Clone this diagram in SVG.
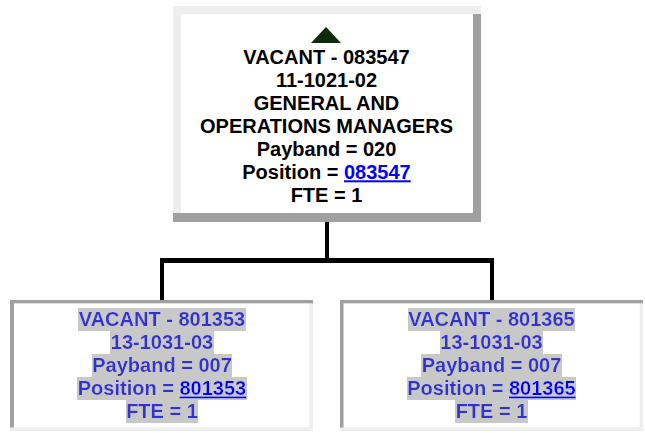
<svg xmlns="http://www.w3.org/2000/svg" width="645" height="433" viewBox="0 0 645 433">
  <defs>
    <style>
      .t { font-family: "Liberation Sans", Arial, sans-serif; font-size: 20px; font-weight: bold; text-anchor: middle; }
      .top { fill: #000000; }
      .child { fill: #3333cc; }
      .link { fill: #0000ff; text-decoration: underline; }
      .dark { fill: #a0a0a0; }
      .light { fill: #eeeeee; }
      .conn { stroke: #000000; fill: none; }
    </style>
    <filter id="hl" x="0" y="0" width="1" height="1">
      <feFlood flood-color="#c8c8c8" result="bg"/>
      <feMerge>
        <feMergeNode in="bg"/>
        <feMergeNode in="SourceGraphic"/>
      </feMerge>
    </filter>
  </defs>
  <rect x="0" y="0" width="645" height="433" fill="#ffffff"/>

  <g id="connectors">
    <line class="conn" x1="327" y1="221" x2="327" y2="263" stroke-width="4"/>
    <line class="conn" x1="160" y1="260.5" x2="494" y2="260.5" stroke-width="5"/>
    <line class="conn" x1="162" y1="258" x2="162" y2="300" stroke-width="4"/>
    <line class="conn" x1="492" y1="258" x2="492" y2="300" stroke-width="4"/>
  </g>

  <g id="node-top">
    <rect x="173" y="6" width="308" height="216" fill="#ffffff"/>
    <rect class="light" x="173" y="6" width="8" height="216"/>
    <rect class="dark" x="473" y="6" width="8" height="216"/>
    <rect class="dark" x="173" y="213" width="308" height="9"/>
    <rect class="light" x="173" y="6" width="308" height="8"/>
    <polygon points="326,27 341,43 311,43" fill="#0b2b0b"/>
    <text class="t top" x="326.5" y="64.3">VACANT - 083547</text>
    <text class="t top" x="326.5" y="87.3">11-1021-02</text>
    <text class="t top" x="326.5" y="110.3">GENERAL AND</text>
    <text class="t top" x="326.5" y="133.3">OPERATIONS MANAGERS</text>
    <text class="t top" x="326.5" y="156.3">Payband = 020</text>
    <text class="t top" x="326.5" y="179.3">Position = <tspan class="link">083547</tspan></text>
    <text class="t top" x="326.5" y="202.3">FTE = 1</text>
  </g>

  <g id="node-left">
    <rect x="10" y="300" width="303" height="131" fill="#ffffff"/>
    <rect class="light" x="10" y="427.5" width="303" height="3.5"/>
    <rect class="light" x="309.5" y="300" width="3.5" height="131"/>
    <rect class="dark" x="10" y="300" width="303" height="3.3"/>
    <rect class="dark" x="10" y="300" width="4" height="127.5"/>
    <text class="t child" x="162" y="326.4" filter="url(#hl)">VACANT - 801353</text>
    <text class="t child" x="162" y="349.4" filter="url(#hl)">13-1031-03</text>
    <text class="t child" x="162" y="372.4" filter="url(#hl)">Payband = 007</text>
    <text class="t child" x="162" y="395.4" filter="url(#hl)">Position = <tspan class="link">801353</tspan></text>
    <text class="t child" x="162" y="418.4" filter="url(#hl)">FTE = 1</text>
  </g>

  <g id="node-right">
    <rect x="340" y="300" width="303" height="131" fill="#ffffff"/>
    <rect class="light" x="340" y="427.5" width="303" height="3.5"/>
    <rect class="light" x="639.5" y="300" width="3.5" height="131"/>
    <rect class="dark" x="340" y="300" width="303" height="3.3"/>
    <rect class="dark" x="340" y="300" width="3.5" height="127.5"/>
    <text class="t child" x="491.5" y="326.4" filter="url(#hl)">VACANT - 801365</text>
    <text class="t child" x="491.5" y="349.4" filter="url(#hl)">13-1031-03</text>
    <text class="t child" x="491.5" y="372.4" filter="url(#hl)">Payband = 007</text>
    <text class="t child" x="491.5" y="395.4" filter="url(#hl)">Position = <tspan class="link">801365</tspan></text>
    <text class="t child" x="491.5" y="418.4" filter="url(#hl)">FTE = 1</text>
  </g>
</svg>
